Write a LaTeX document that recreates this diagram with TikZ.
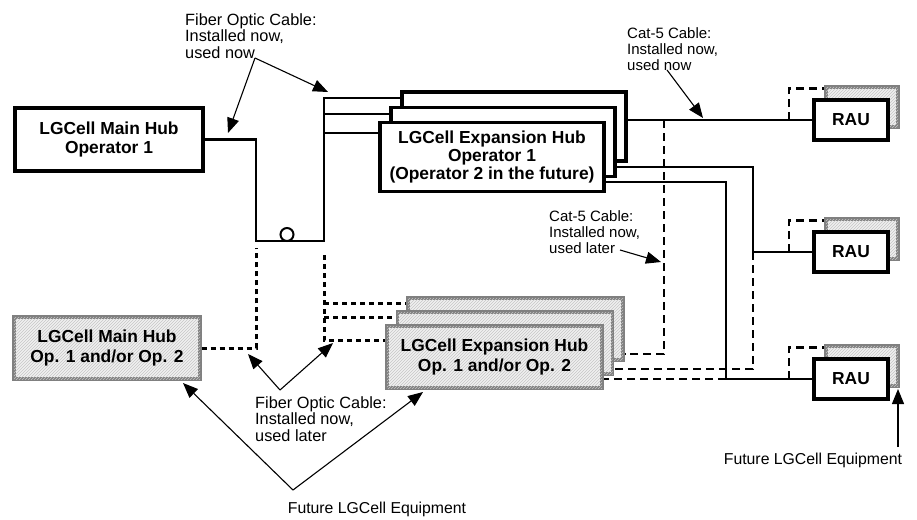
\documentclass[tikz,border=0pt]{standalone}
\usepackage{fontspec}
\setmainfont{Liberation Sans}
\usetikzlibrary{arrows.meta,patterns}
\newcommand\boxtwo{\fontsize{17.4}{19.5}\selectfont\bfseries}
\newcommand\boxthree{\fontsize{17.4}{18}\selectfont\bfseries}
\newcommand\fibfont{\fontsize{16.3}{16.5}\selectfont}
\newcommand\catfont{\fontsize{15}{16}\selectfont}
\newcommand\futfont{\fontsize{15.8}{16}\selectfont}
\begin{document}
\begin{tikzpicture}[x=1pt,y=-1pt,
 hub/.style={draw, line width=3.2pt, fill=white, inner sep=0pt, align=center, font=\boxtwo},
 fut/.style={draw=gray, line width=3.4pt, fill=gray!12, postaction={pattern=north east lines, pattern color=gray!45}, inner sep=0pt, align=center, font=\boxtwo},
 cable/.style={line width=2.5pt},
 thincable/.style={line width=1.3pt},
 catlater/.style={line width=2.5pt, dash pattern=on 8pt off 5pt},
 fiblater/.style={line width=3pt, dash pattern=on 5pt off 4pt},
 arr/.style={line width=1.1pt, -{Triangle[length=15pt,width=12pt]}},
 lbl/.style={inner sep=0pt, align=left, anchor=north west}]
\useasboundingbox (0,0) rectangle (917,519);

% ---------- coordinates ----------
\coordinate (ja) at (256,241);
\coordinate (jb) at (324,241);
\coordinate (jc) at (324,98);
\coordinate (jd) at (324,114);
\coordinate (je) at (324,133);
\coordinate (m2) at (753,167);
\coordinate (m3) at (726,182);
\coordinate (k1) at (664,120);
\coordinate (k1b) at (664,354);
\coordinate (k2b) at (753,369);
\coordinate (fa) at (256,248);
\coordinate (fb) at (324,255);
\coordinate (fc) at (324,340);
\coordinate (fd) at (324,317);
\coordinate (ff) at (324,303);

% ---------- present equipment ----------
\node[hub, minimum width=188pt, minimum height=63pt] (mh) at (109,139.5) {LGCell Main Hub\\Operator 1};
\node[hub, minimum width=224pt, minimum height=69pt] (eh3) at (514,126.5) {};
\node[hub, minimum width=224pt, minimum height=69pt] (eh2) at (503,142) {};
\node[hub, minimum width=224pt, minimum height=69pt, font=\boxthree] (eh1) at (492,157) {LGCell Expansion Hub\\Operator 1\\(Operator 2 in the future)};

% ---------- future equipment ----------
\node[fut, minimum width=186pt, minimum height=62pt] (fm) at (107,348) {LGCell Main Hub\\Op. 1 and/or Op. 2};
\node[fut, minimum width=215pt, minimum height=62pt] (fe3) at (515.5,329) {};
\node[fut, minimum width=215pt, minimum height=62pt] (fe2) at (505,343) {};
\node[fut, minimum width=215pt, minimum height=62pt] (fe1) at (494.5,357) {LGCell Expansion Hub\\Op. 1 and/or Op. 2};

% ---------- RAUs ----------
\node[fut, minimum width=72pt, minimum height=40pt] (r1s) at (862,107) {};
\node[fut, minimum width=72pt, minimum height=40pt] (r2s) at (862,239) {};
\node[fut, minimum width=72pt, minimum height=40pt] (r3s) at (862,366) {};
\coordinate (p1) at (789,120);
\coordinate (p2) at (789,252);
\coordinate (p3) at (789,379);
\draw[catlater] (p1) |- ([yshift=-3pt]r1s.north west);
\draw[catlater] (p2) |- ([yshift=-3pt]r2s.north west);
\draw[catlater] (p3) |- ([yshift=-3pt]r3s.north west);
\node[hub, minimum width=74pt, minimum height=40pt] (r1) at (851,120) {RAU};
\node[hub, minimum width=74pt, minimum height=40pt] (r2) at (851,252) {RAU};
\node[hub, minimum width=74pt, minimum height=40pt] (r3) at (851,379) {RAU};

% ---------- fiber, used now ----------
\draw[cable] (mh.east) -| (ja) -- (jb) -- (jc) -- (jc -| eh3.west);
\draw[thincable] (jd) -- (jd -| eh2.west);
\draw[cable] (je) -- (je -| eh1.west);
\node[circle, draw, line width=2pt, fill=white, minimum size=13pt, inner sep=0pt] (loop) at (287,234.5) {};

% ---------- fiber, used later ----------
\draw[fiblater] (fm.east) -| (fa);
\draw[fiblater] (fb) -- (fc) -- (fc -| fe1.west);
\draw[fiblater] (fd) -- (fd -| fe2.west);
\draw[fiblater] (ff) -- (ff -| fe3.west);

% ---------- cat-5, used now ----------
\draw[cable] (eh3.east |- r1.west) -- (r1.west);
\draw[cable] (m2 -| eh2.east) -- (m2) |- (r2.west);
\draw[cable] (m3 -| eh1.east) -- (m3) |- (r3.west);

% ---------- cat-5, used later ----------
\draw[catlater] (k1) -- (k1b) -- (k1b -| fe3.east);
\draw[catlater] (m2 |- r2.west) -- (k2b) -- (k2b -| fe2.east);
\draw[catlater] (m3 |- r3.west) -- (fe1.east |- r3.west);

% ---------- labels and pointers ----------
\node[lbl, font=\fibfont] (tfn) at (185,13) {Fiber Optic Cable:\\Installed now,\\used now};
\coordinate (fn) at (255,58);
\coordinate (fnt1) at (228,133);
\coordinate (fnt2) at (328,92);
\draw[arr] (fn) -- (fnt1);
\draw[arr] (fn) -- (fnt2);

\node[lbl, font=\catfont] (tcn) at (627,27) {Cat-5 Cable:\\Installed now,\\used now};
\coordinate (cn) at (667,70);
\coordinate (cnt) at (703,118);
\draw[arr] (cn) -- (cnt);

\node[lbl, font=\catfont] (tcl) at (549,210) {Cat-5 Cable:\\Installed now,\\used later};
\coordinate (cl) at (620,250);
\coordinate (clt) at (661,262);
\draw[arr] (cl) -- (clt);

\node[lbl, font=\fibfont] (tfl) at (255,396) {Fiber Optic Cable:\\Installed now,\\used later};
\coordinate (fl) at (280,390);
\coordinate (flt1) at (248,354);
\coordinate (flt2) at (333,343);
\draw[arr] (fl) -- (flt1);
\draw[arr] (fl) -- (flt2);

\node[inner sep=0pt, anchor=base, font=\futfont] (tful) at (377,513) {Future LGCell Equipment};
\coordinate (ful) at (293,490);
\coordinate (fult1) at (183,383);
\coordinate (fult2) at (423,392);
\draw[arr] (ful) -- (fult1);
\draw[arr] (ful) -- (fult2);

\node[inner sep=0pt, anchor=base, font=\futfont] (tfur) at (813,464) {Future LGCell Equipment};
\coordinate (fur) at (898,447);
\coordinate (furt) at (898,389);
\draw[arr] (fur) -- (furt);
\end{tikzpicture}
\end{document}
